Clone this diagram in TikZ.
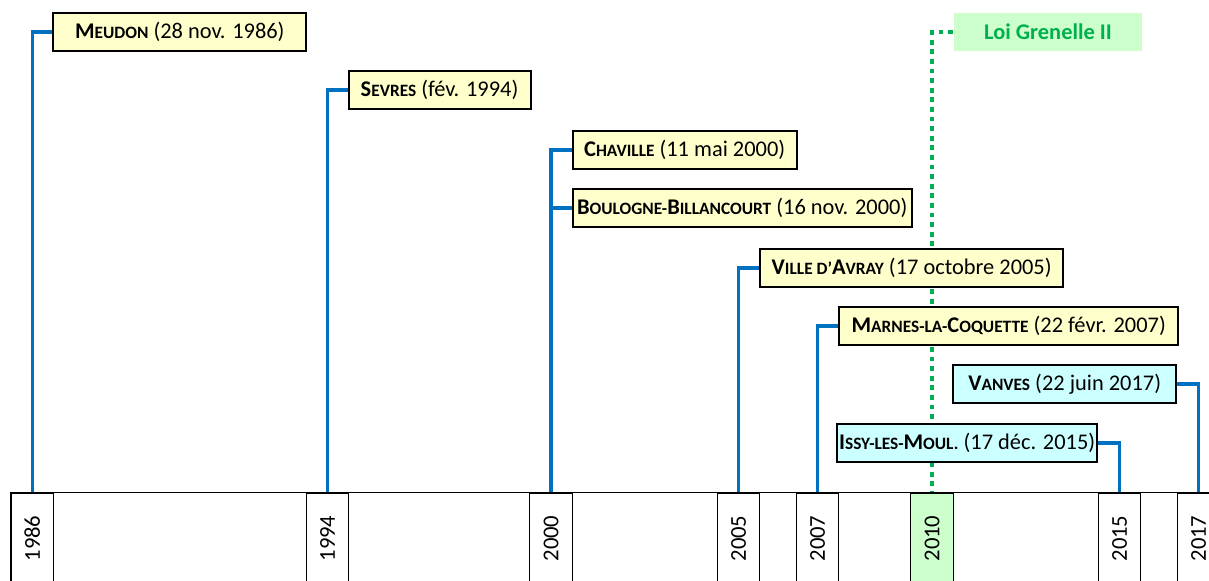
\documentclass[tikz,border=0pt]{standalone}
\usepackage{fontspec}
\setmainfont{Carlito}
\usepackage{graphicx}
\usetikzlibrary{positioning}
\definecolor{lineblue}{HTML}{0070C0}
\definecolor{loigreen}{HTML}{00B050}
\definecolor{boxyellow}{HTML}{FFFFCC}
\definecolor{boxcyan}{HTML}{CCFFFF}
\definecolor{cellgreen}{HTML}{CCFFCC}
\tikzstyle{evt} = [draw, line width=1.5pt, fill=boxyellow, minimum height=28.5pt, inner sep=0pt, font=\fontsize{16.8}{20}\selectfont]
\tikzstyle{evtc} = [evt, fill=boxcyan]
\tikzstyle{yearcell} = [draw, line width=1pt, minimum width=31.9pt, minimum height=68.25pt, inner sep=0pt, font=\fontsize{17}{20}\selectfont]
\tikzstyle{timeline} = [draw=lineblue, line width=2.6pt]
\tikzstyle{loiline} = [draw=loigreen, line width=3.6pt, dash pattern=on 3.6pt off 3.6pt]
\newcommand{\scx}[1]{{\fontsize{13}{16}\selectfont #1}}

\begin{document}
\begin{tikzpicture}[x=0.75pt,y=-0.75pt]
    \useasboundingbox (0,0) rectangle (1209,581);
    \clip (0,0) rectangle (1209,581);
    % year axis
    \foreach \yr/\xc in {1986/32.3,1994/327.5,2000/551,2005/738.5,2007/817.5,2015/1119.5,2017/1198.5}
        \node [yearcell] (c\yr) at (\xc,538.5) {\rotatebox{90}{\yr}};
    \node [yearcell, fill=cellgreen] (c2010) at (932,538.5) {\rotatebox{90}{2010}};
    \draw [line width=1pt] (c1986.north west) -- (c2017.north east);

    % tops of the lines
    \coordinate (t1986) at (32.3,32);
    \coordinate (t1994) at (327.5,90);
    \coordinate (t2000a) at (551,150);
    \coordinate (t2000b) at (551,208);
    \coordinate (t2005) at (738.5,268);
    \coordinate (t2007) at (817.5,326);
    \coordinate (t2010) at (932,32);
    \coordinate (t2015) at (1119.5,443);
    \coordinate (t2017) at (1198.5,384);

    % law first, so the boxes hide its line
    \node [evt, draw=none, fill=cellgreen, text=loigreen, minimum width=141pt, right=15.75pt of t2010] (loi) {\textbf{Loi Grenelle II}};
    \draw [loiline] (loi.west) -| (c2010.north);

    \node [evt, minimum width=189.75pt, right=15pt of t1986] (meudon) {\textbf{M\scx{EUDON}} (28 nov. 1986)};
    \node [evt, minimum width=136.5pt, right=15pt of t1994] (sevres) {\textbf{S\scx{EVRES}} (fév. 1994)};
    \node [evt, minimum width=168pt, right=15.5pt of t2000a] (chaville) {\textbf{C\scx{HAVILLE}} (11 mai 2000)};
    \node [evt, minimum width=254.25pt, right=15.5pt of t2000b] (boulogne) {\textbf{B\scx{OULOGNE-}B\scx{ILLANCOURT}} (16 nov. 2000)};
    \node [evt, minimum width=227.25pt, right=15.5pt of t2005] (avray) {\textbf{V\scx{ILLE D’}A\scx{VRAY}} (17 octobre 2005)};
    \node [evt, minimum width=254.25pt, right=15.5pt of t2007] (marnes) {\textbf{M\scx{ARNES-LA-}C\scx{OQUETTE}} (22 févr. 2007)};
    \node [evtc, minimum width=195pt, left=16pt of t2015] (issy) {\textbf{I\scx{SSY-LES-}M\scx{OUL.}} (17 déc. 2015)};
    \node [evtc, minimum width=167.25pt, left=16pt of t2017] (vanves) {\textbf{V\scx{ANVES}} (22 juin 2017)};

    % connections
    \draw [timeline] (meudon.west) -| (c1986.north);
    \draw [timeline] (sevres.west) -| (c1994.north);
    \draw [timeline] (chaville.west) -| (c2000.north);
    \draw [timeline] (boulogne.west) -- (t2000b);
    \draw [timeline] (avray.west) -| (c2005.north);
    \draw [timeline] (marnes.west) -| (c2007.north);
    \draw [timeline] (issy.east) -| (c2015.north);
    \draw [timeline] (vanves.east) -| (c2017.north);
\end{tikzpicture}
\end{document}
